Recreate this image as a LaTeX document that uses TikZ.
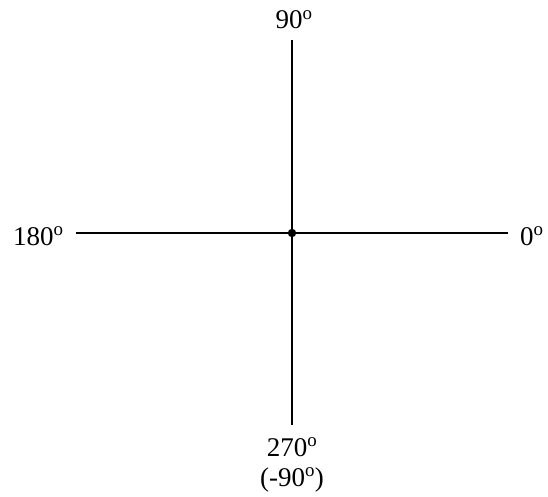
\documentclass[tikz,border=0pt]{standalone}
\usepackage{fontspec}
\setmainfont{Liberation Serif}
\begin{document}
\begin{tikzpicture}[x=1pt,y=-1pt,
  lbl/.style={inner sep=0pt,font=\fontsize{27}{31}\selectfont},
  axis/.style={line width=1.9pt}]
\useasboundingbox (0,0) rectangle (548,497);
\coordinate (o) at (292,233);
\coordinate (top) at (292,40);
\coordinate (bot) at (292,425);
\coordinate (left) at (76,233);
\coordinate (right) at (508,233);
\draw[axis] (top) -- (bot);
\draw[axis] (left) -- (right);
\fill (o) circle (4.2);
\node[lbl,anchor=base] (n90) at (294,29) {90\textsuperscript{o}};
\node[lbl,anchor=base west] (n180) at (13,245) {180\textsuperscript{o}};
\node[lbl,anchor=base west] (n0) at (520,245) {0\textsuperscript{o}};
\node[lbl,anchor=base] (n270) at (292,456) {270\textsuperscript{o}};
\node[lbl,anchor=base] (nm90) at (292,486) {(-90\textsuperscript{o})};
\end{tikzpicture}
\end{document}
